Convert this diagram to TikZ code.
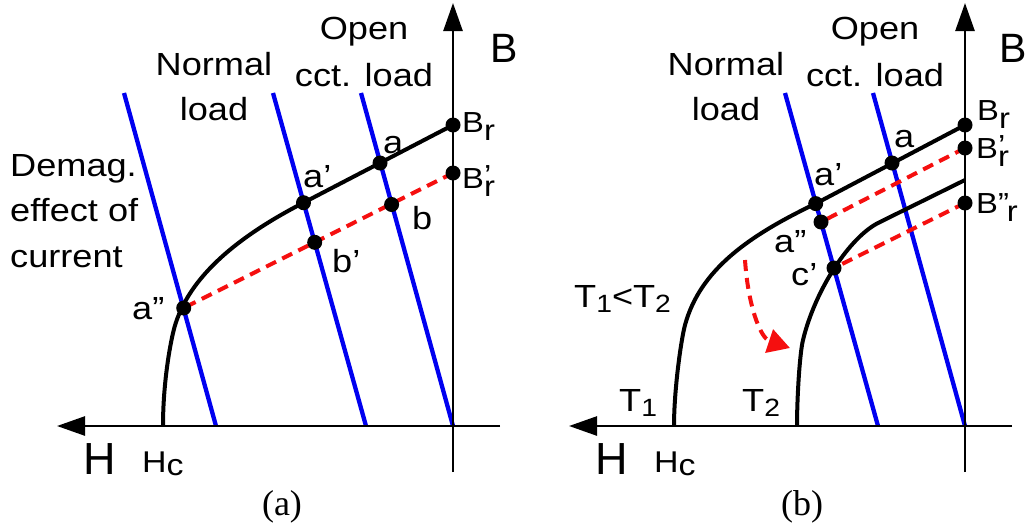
\documentclass[tikz,border=0pt]{standalone}
\usepackage{fontspec}
\setmainfont{Liberation Serif}
\newfontfamily\labf{Liberation Sans}[FakeStretch=1.13]
\newfontfamily\axisf{Liberation Sans}
\usetikzlibrary{arrows.meta}
\definecolor{lblue}{RGB}{0,0,240}
\definecolor{lred}{RGB}{245,15,15}
\newcommand{\lowr}[1]{\raisebox{-8pt}{#1}}
\newcommand{\upq}[1]{\rlap{\raisebox{3pt}{#1}}}
\newcommand{\lowsub}[1]{\raisebox{-5pt}{\fontsize{25}{25}\selectfont #1}}
\begin{document}
\begin{tikzpicture}[x=1pt,y=-1pt,
  axis/.style={line width=2.6pt,-{Triangle[length=28pt,width=19pt]}},
  loadline/.style={lblue,line width=4.3pt},
  bhcurve/.style={line width=4pt,line join=round},
  reddash/.style={lred,line width=4pt,dash pattern=on 11pt off 7pt},
  redarrow/.style={lred,line width=4pt,dash pattern=on 11pt off 7pt,-{Triangle[length=22pt,width=24pt]}},
  dot/.style={circle,fill=black,inner sep=0pt,minimum size=15pt},
  txt/.style={font=\labf\fontsize{32}{45}\selectfont,inner sep=0pt},
  lbl/.style={font=\labf\fontsize{32}{36}\selectfont,inner sep=0pt,anchor=base west},
  brl/.style={font=\labf\fontsize{29}{33}\selectfont,inner sep=0pt,anchor=base west},
  axl/.style={font=\axisf\fontsize{41}{46}\selectfont,inner sep=0pt,anchor=base west},
  capt/.style={font=\fontsize{36}{40}\selectfont,inner sep=0pt,anchor=base}]
\useasboundingbox (0,0) rectangle (1027,528);

% ---------------- panel (a) ----------------
\coordinate (aBtop) at (453,3);
\coordinate (aBbot) at (453,472);
\coordinate (aHl) at (57,426);
\coordinate (aHr) at (500,426);
\coordinate (aL1t) at (124,93);  \coordinate (aL1b) at (216,426);
\coordinate (aL2t) at (273,93);  \coordinate (aL2b) at (366,426);
\coordinate (aL3t) at (361,93);  \coordinate (aL3b) at (453,426);
\coordinate (aBr) at (453,125);
\coordinate (aa) at (380,163);
\coordinate (aap) at (303.5,202.7);
\coordinate (aBrp) at (453,173);
\coordinate (ab) at (391.6,204.5);
\coordinate (abp) at (314.7,242.3);
\coordinate (aapp) at (183.7,308);
\coordinate (aK) at (173,333);
\coordinate (aHc) at (163,426);

\draw[loadline] (aL1t) -- (aL1b);
\draw[loadline] (aL2t) -- (aL2b);
\draw[loadline] (aL3t) -- (aL3b);
\draw[axis] (aBbot) -- (aBtop);
\draw[axis] (aHr) -- (aHl);
\draw[bhcurve] (aBr) -- (aap) .. controls (235,238) and (185,280) .. (aK)
  .. controls (168,355) and (163,390) .. (aHc);
\draw[reddash] (aBrp) -- (aapp);
\foreach \p in {aBr,aa,aap,aBrp,ab,abp,aapp} \node[dot] (d-\p) at (\p) {};

\node[txt,align=center,anchor=north] (aNormal) at (214,52) {Normal\\load};
\node[txt,align=center,anchor=north,font=\labf\fontsize{32}{47}\selectfont] (aOpen) at (364,17) {Open\\cct. load};
\node[txt,align=left,anchor=north west,font=\labf\fontsize{32}{45.5}\selectfont] (aDemag) at (10,154) {Demag.\\effect of\\current};
\node[lbl] (la) at (383,153) {a};
\node[lbl] (lap) at (303,187) {a’};
\node[lbl] (lb) at (412,229) {b};
\node[lbl] (lbp) at (332,272) {b’};
\node[lbl] (lapp) at (132,319) {a”};
\node[brl] (lBr) at (462,132) {B\lowr{r}};
\node[brl] (lBrp) at (462,188) {B\upq{’}\lowr{r}};
\node[axl] (lB) at (490,62) {B};
\node[axl,font=\axisf\fontsize{45}{48}\selectfont] (lH) at (83,474) {H};
\node[brl,font=\labf\fontsize{30}{33}\selectfont] (lHc) at (142,472) {H\raisebox{-3pt}{c}};
\node[capt] (capa) at (282,515) {(a)};

% ---------------- panel (b) ----------------
\coordinate (bBtop) at (965,3);
\coordinate (bBbot) at (965,472);
\coordinate (bHl) at (569,426);
\coordinate (bHr) at (1012,426);
\coordinate (bL2t) at (785,93);  \coordinate (bL2b) at (878,426);
\coordinate (bL3t) at (873,93);  \coordinate (bL3b) at (965,426);
\coordinate (bBr) at (965,125);
\coordinate (ba) at (892,163);
\coordinate (bap) at (815.7,203.6);
\coordinate (bK1) at (685,325);
\coordinate (bHc) at (674,426);
\coordinate (bBrp) at (965,148);
\coordinate (bapp) at (821,222);
\coordinate (bT2s) at (965,180);
\coordinate (bT2a) at (880,222);
\coordinate (bK2) at (803,340);
\coordinate (bHc2) at (797,426);
\coordinate (bBrpp) at (965,203);
\coordinate (bcp) at (834,268);
\coordinate (bArS) at (745,260);
\coordinate (bArE) at (790,348);

\draw[loadline] (bL2t) -- (bL2b);
\draw[loadline] (bL3t) -- (bL3b);
\draw[axis] (bBbot) -- (bBtop);
\draw[axis] (bHr) -- (bHl);
\draw[bhcurve] (bBr) -- (bap) .. controls (748,236) and (700,270) .. (bK1)
  .. controls (681,340) and (674,390) .. (bHc);
\draw[bhcurve] (bT2s) -- (bT2a) .. controls (850,236) and (815,290) .. (bK2)
  .. controls (799.4,355) and (797,400) .. (bHc2);
\draw[reddash] (bBrp) -- (bapp);
\draw[reddash] (bBrpp) -- (bcp);
\draw[redarrow] (bArS) .. controls (748,305) and (760,338) .. (bArE);
\foreach \p in {bBr,ba,bap,bBrp,bapp,bBrpp,bcp} \node[dot] (d-\p) at (\p) {};

\node[txt,align=center,anchor=north] (bNormal) at (726,52) {Normal\\load};
\node[txt,align=center,anchor=north,font=\labf\fontsize{32}{47}\selectfont] (bOpen) at (875,17) {Open\\cct. load};
\node[lbl] (lba) at (894,147) {a};
\node[lbl] (lbap) at (814,185) {a’};
\node[lbl] (lbapp) at (774,252) {a”};
\node[lbl] (lbcp) at (791,285) {c’};
\node[brl] (lbBr) at (977,120) {B\lowr{r}};
\node[brl] (lbBrp) at (976,158) {B\upq{’}\lowr{r}};
\node[brl] (lbBrpp) at (976,213) {B”\kern-2pt\lowr{r}};
\node[axl] (lbB) at (999,62) {B};
\node[axl,font=\axisf\fontsize{45}{48}\selectfont] (lbH) at (595,474) {H};
\node[brl,font=\labf\fontsize{30}{33}\selectfont] (lbHc) at (654,472) {H\raisebox{-3pt}{c}};
\node[txt,anchor=base west] (lT12) at (574,307) {T\lowsub{1}<T\lowsub{2}};
\node[txt,anchor=base west] (lT1) at (619,411) {T\lowsub{1}};
\node[txt,anchor=base west] (lT2) at (742,411) {T\lowsub{2}};
\node[capt] (capb) at (802,515) {(b)};
\end{tikzpicture}
\end{document}
